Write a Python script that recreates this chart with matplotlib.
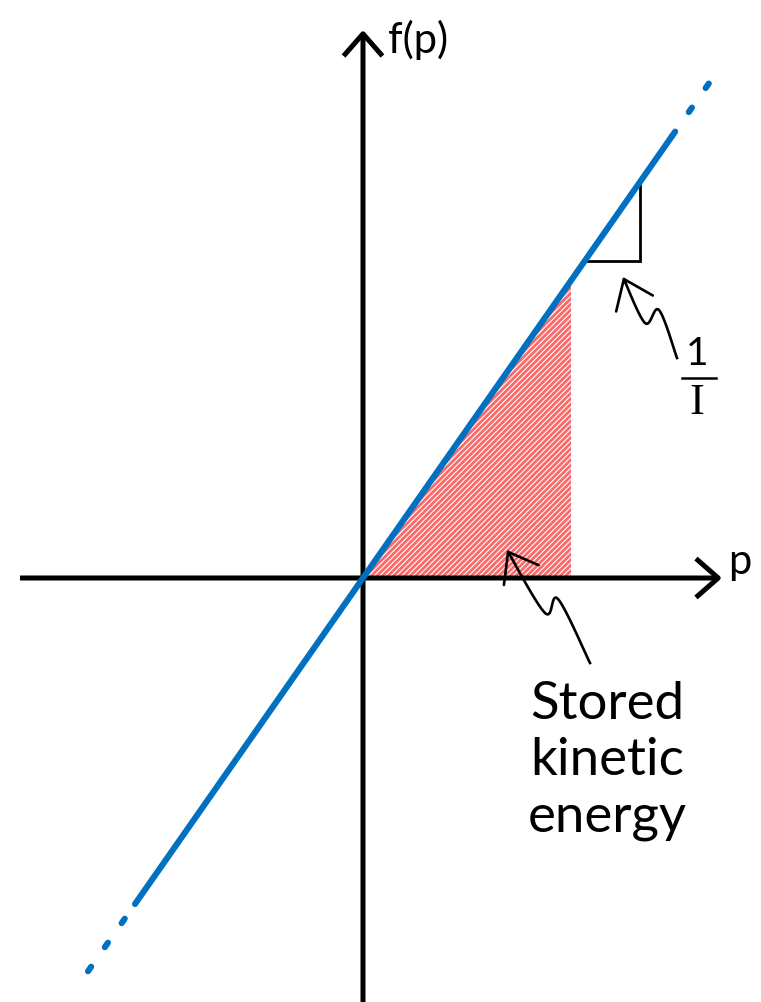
import numpy as np
import matplotlib
matplotlib.use('Agg')
import matplotlib.pyplot as plt

# geometry in "pixel-like" units, origin at the axes crossing
slope = 1.43                      # 1/I
p_dash_lo = [-275, -228]          # dashed extension, lower end
p_solid = [-228, 309]             # solid part of f(p)
p_dash_hi = [309, 347]            # dashed extension, upper end
p_shade = 208                     # stored kinetic energy: area under f up to p
tri_p = [277]                     # slope triangle corner (p)
tri_f = [317]                     # slope triangle corner (f)
x_axis = [-343, 359]
y_axis = [-424, 548]

# squiggly pointers (text -> target)
squig_inv = [(314, 220), (296, 268), (282, 255), (260, 301)]
squig_ke = [(227, -85), (195, -21), (182, -35), (144, 28)]

BLUE = '#0070c0'
INK = 'black'
plt.rcParams['font.family'] = ['Lato', 'DejaVu Sans']
plt.rcParams['hatch.linewidth'] = 0.8

fig = plt.figure(figsize=(7.61, 10.02), dpi=100)
ax = fig.add_axes([0, 0, 1, 1])
ax.set_xlim(-363, 398)
ax.set_ylim(-424, 578)
ax.axis('off')

# shaded area
ps = np.array([0, p_shade])
ax.fill_between(ps, 0, slope * ps, facecolor='#fa6a6a', edgecolor='white',
                hatch='//////', linewidth=0, zorder=1)

# axes with arrows
arrow_kw = dict(arrowstyle='->,head_length=0.8,head_width=0.7', lw=3.6, color=INK,
                shrinkA=0, shrinkB=0, mutation_scale=20, capstyle='butt')
ax.annotate('', xy=(x_axis[1], 0), xytext=(x_axis[0], 0), arrowprops=arrow_kw, zorder=3)
ax.annotate('', xy=(0, y_axis[1]), xytext=(0, y_axis[0]), arrowprops=arrow_kw, zorder=3)

# f(p) line
pl = np.array(p_solid)
ax.plot(pl, slope * pl, color=BLUE, lw=4.4, solid_capstyle='round', zorder=4)
for seg in (p_dash_lo, p_dash_hi):
    ps = np.array(seg)
    ax.plot(ps, slope * ps, color=BLUE, lw=4.4, dashes=(0.9, 3.9),
            dash_capstyle='round', zorder=4)

# slope triangle
tp, tf = tri_p[0], tri_f[0]
ax.plot([tf / slope, tp, tp], [tf, tf, tp * slope], color=INK, lw=2.0,
        solid_joinstyle='miter', zorder=3)

# squiggly pointers
def squiggle(pts):
    pts = np.array(pts, dtype=float)
    # smooth through points with Catmull-Rom
    out = []
    P = np.vstack([pts[0], pts, pts[-1]])
    for i in range(1, len(P) - 2):
        p0, p1, p2, p3 = P[i - 1], P[i], P[i + 1], P[i + 2]
        for t in np.linspace(0, 1, 16, endpoint=False):
            out.append(0.5 * ((2 * p1) + (-p0 + p2) * t + (2 * p0 - 5 * p1 + 4 * p2 - p3) * t ** 2
                              + (-p0 + 3 * p1 - 3 * p2 + p3) * t ** 3))
    out.append(pts[-1])
    out = np.array(out)
    ax.plot(out[:-3, 0], out[:-3, 1], color=INK, lw=1.9, zorder=5)
    ax.annotate('', xy=out[-1], xytext=out[-4],
                arrowprops=dict(arrowstyle='->,head_length=0.8,head_width=0.6', lw=1.9,
                                color=INK, shrinkA=0, shrinkB=0, mutation_scale=24), zorder=5)

squiggle(squig_inv)
squiggle(squig_ke)

# labels
ax.text(25, 538, 'f(p)', fontsize=30, ha='left', va='center')
ax.text(377, 16, 'p', fontsize=30, ha='center', va='center')
ax.text(334, 224, '1', fontsize=28, ha='center', va='center')
ax.plot([319, 353], [200, 200], color=INK, lw=1.8)
ax.text(334, 175, 'I', fontsize=32, ha='center', va='center',
        family=['Liberation Serif', 'DejaVu Serif'])
ax.text(244, -183, 'Stored\nkinetic\nenergy', fontsize=38, ha='center', va='center',
        multialignment='center', linespacing=1.25)

fig.savefig('out.png', dpi=100)
